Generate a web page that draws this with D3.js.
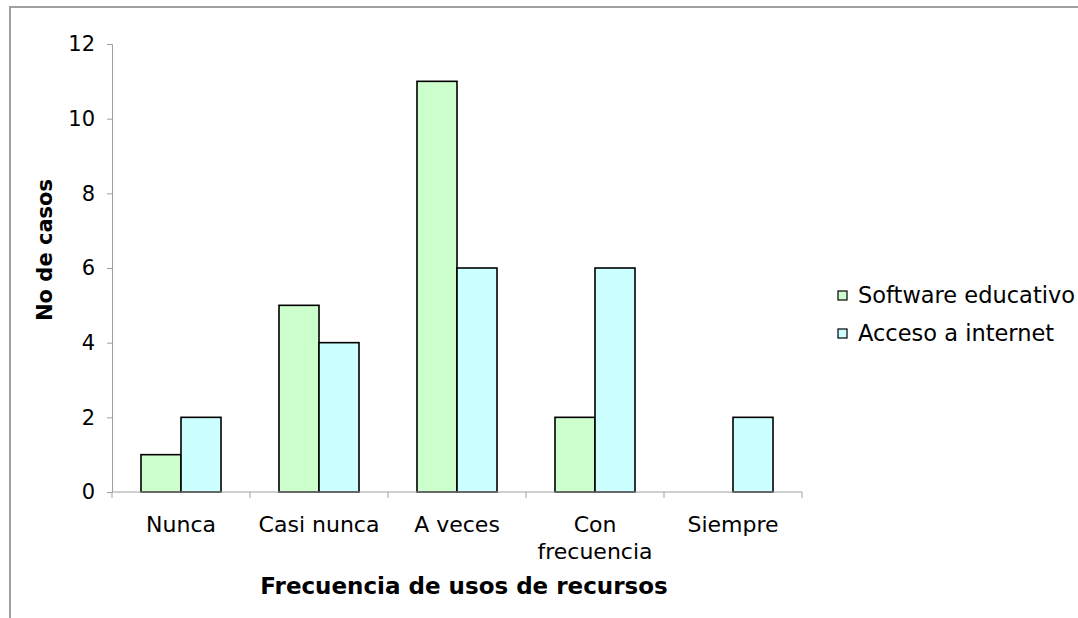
<!DOCTYPE html>
<html>
<head>
<meta charset="utf-8">
<script src="https://cdn.jsdelivr.net/npm/d3@7"></script>
<style>
  body { margin: 0; background: #fff; }
  text { font-family: "DejaVu Sans", Verdana, sans-serif; fill: #000; }
</style>
</head>
<body>
<div id="chart"></div>
<script>
// data
var categories = ["Nunca", "Casi nunca", "A veces", "Con frecuencia", "Siempre"];
var seriesNames = ["Software educativo", "Acceso a internet"];
var software = [1, 5, 11, 2, 0];
var internet = [2, 4, 6, 6, 2];
var yTicks = [0, 2, 4, 6, 8, 10, 12];
var colors = ["#ccffcc", "#ccffff"];

var W = 1078, H = 618;
var margin = {top: 44, left: 112, right: 276, bottom: 126};
var width = W - margin.left - margin.right,
    height = H - margin.top - margin.bottom;

var svg = d3.select("#chart").append("svg")
  .attr("width", W)
  .attr("height", H);

// outer frame (runs off the right and bottom edges)
svg.append("rect")
  .attr("x", 10).attr("y", 7)
  .attr("width", W + 20).attr("height", H + 20)
  .attr("fill", "none")
  .attr("stroke", "#a0a0a0")
  .attr("stroke-width", 2);

var g = svg.append("g")
  .attr("transform", "translate(" + margin.left + "," + margin.top + ")");

var x0 = d3.scaleBand().domain(categories).range([0, width]).paddingInner(0).paddingOuter(0);
var x1 = d3.scaleBand().domain(seriesNames).range([0, 80]);
var y = d3.scaleLinear().domain([0, 12]).range([height, 0]);

var rows = categories.map(function(c, i) {
  return {cat: c, vals: [software[i], internet[i]]};
});

// bars
var groups = g.selectAll(".grp").data(rows).enter().append("g")
  .attr("class", "grp")
  .attr("transform", function(d) { return "translate(" + (x0(d.cat) + (x0.bandwidth() - 80) / 2) + ",0)"; });

groups.selectAll("rect")
  .data(function(d) { return d.vals.map(function(v, j) { return {s: seriesNames[j], v: v, j: j}; }); })
  .enter().append("rect")
  .filter(function(d) { return d.v > 0; })
  .attr("x", function(d) { return x1(d.s); })
  .attr("y", function(d) { return y(d.v); })
  .attr("width", x1.bandwidth())
  .attr("height", function(d) { return height - y(d.v); })
  .attr("fill", function(d) { return colors[d.j]; })
  .attr("stroke", "#000")
  .attr("stroke-width", 1.6);

// y axis
var yAxis = g.append("g").attr("class", "y axis")
  .call(d3.axisLeft(y).tickValues(yTicks).tickSize(5).tickPadding(12));
yAxis.select(".domain").attr("stroke", "#a0a0a0").attr("d", "M-5,0.5H0.5V" + height);
yAxis.selectAll("line").attr("stroke", "#a0a0a0");
yAxis.selectAll("text").style("font-size", "21px").style("font-family", "DejaVu Sans");

// x axis
var xAxis = g.append("g").attr("class", "x axis")
  .attr("transform", "translate(0," + height + ")")
  .call(d3.axisBottom(x0).tickSize(0).tickPadding(0));
xAxis.select(".domain").attr("stroke", "#a0a0a0").attr("d", "M0,0H" + width);
xAxis.selectAll("text").remove();
xAxis.selectAll(".tick line").remove();

// boundary ticks
g.append("g").selectAll("line")
  .data(d3.range(categories.length + 1))
  .enter().append("line")
  .attr("x1", function(i) { return i * x0.bandwidth(); })
  .attr("x2", function(i) { return i * x0.bandwidth(); })
  .attr("y1", height).attr("y2", height + 6)
  .attr("stroke", "#a0a0a0");

// category labels (wrap long ones)
var labelLines = {"Con frecuencia": ["Con", "frecuencia"]};
g.selectAll(".catlabel").data(categories).enter().append("text")
  .attr("class", "catlabel")
  .attr("text-anchor", "middle")
  .style("font-size", "22px")
  .attr("transform", function(d) { return "translate(" + (x0(d) + x0.bandwidth() / 2) + "," + (height + 40) + ")"; })
  .each(function(d) {
    var lines = labelLines[d] || [d];
    var t = d3.select(this);
    lines.forEach(function(l, i) {
      t.append("tspan").attr("x", 0).attr("dy", i === 0 ? 0 : 27).text(l);
    });
  });

// axis titles
g.append("text")
  .attr("text-anchor", "middle")
  .attr("x", 464 - margin.left)
  .attr("y", height + 102)
  .style("font-size", "23px")
  .style("font-weight", "bold")
  .text("Frecuencia de usos de recursos");

g.append("text")
  .attr("text-anchor", "middle")
  .attr("transform", "translate(-60," + (250 - margin.top) + ") rotate(-90)")
  .style("font-size", "21px")
  .style("font-weight", "bold")
  .text("No de casos");

// legend
var legend = svg.append("g").attr("transform", "translate(838,291)");
var items = legend.selectAll(".item").data(seriesNames).enter().append("g")
  .attr("transform", function(d, i) { return "translate(0," + (i * 38) + ")"; });
items.append("rect")
  .attr("width", 9).attr("height", 9)
  .attr("fill", function(d, i) { return colors[i]; })
  .attr("stroke", "#000")
  .attr("stroke-width", 1.2);
items.append("text")
  .attr("x", 20).attr("y", 12)
  .style("font-size", "22.5px")
  .text(function(d) { return d; });
</script>
</body>
</html>
